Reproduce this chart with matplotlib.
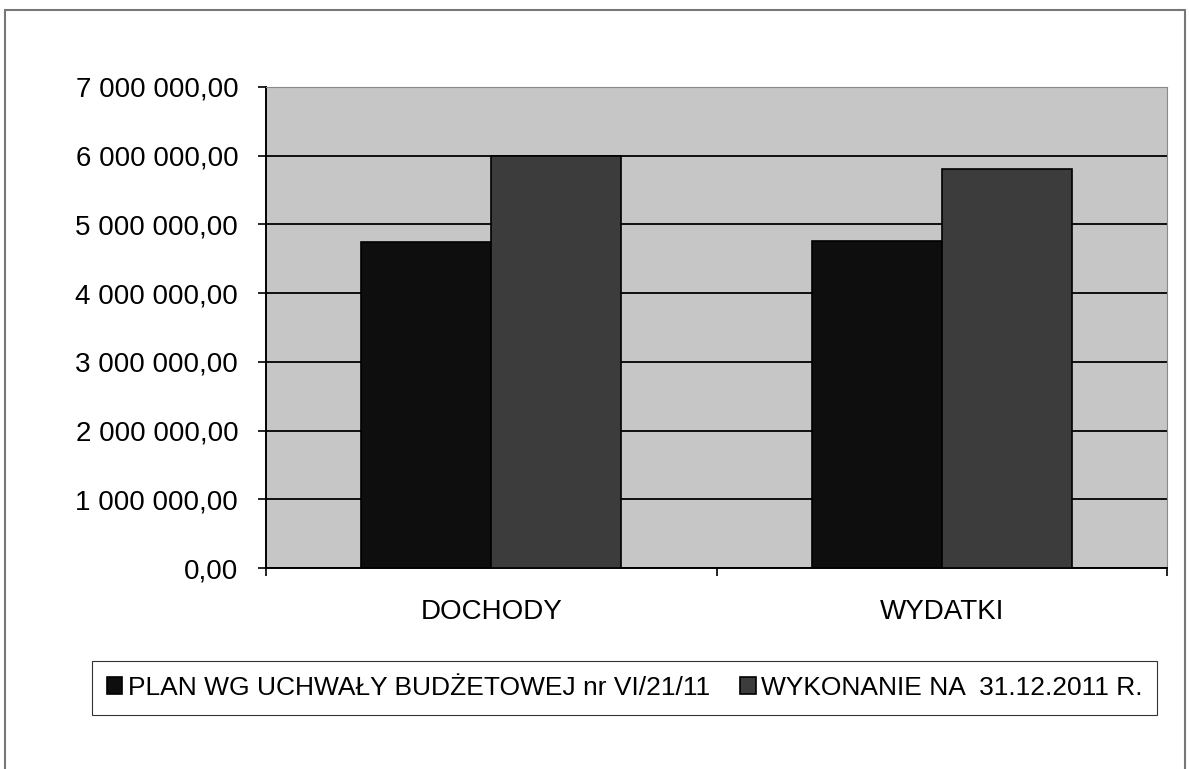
import numpy as np
import matplotlib
matplotlib.use("Agg")
import matplotlib.pyplot as plt
from matplotlib.patches import Rectangle

plt.rcParams['font.family'] = ['Liberation Sans', 'DejaVu Sans']

# data
categories = ['DOCHODY', 'WYDATKI']
plan = [4740000, 4760000]
wykonanie = [5990000, 5810000]
series_names = ['PLAN WG UCHWAŁY BUDŻETOWEJ nr VI/21/11', 'WYKONANIE NA  31.12.2011 R.']
yticks = np.arange(0, 7000001, 1000000)

def fmt(v):
    s = f"{int(v):,}".replace(",", " ")
    return s + ",00"

fig = plt.figure(figsize=(11.89, 7.69), dpi=100)
ax = fig.add_axes([266/1189, 1 - 568/769, (1167-266)/1189, (568-87)/769])

x = np.arange(len(categories))
w = 0.289
ax.set_facecolor('#c6c6c6')
ax.bar(x - w/2, plan, w, color='#0e0e0e', edgecolor='black', linewidth=1.2,
       label=series_names[0], zorder=3)
ax.bar(x + w/2, wykonanie, w, color='#3c3c3c', edgecolor='black', linewidth=1.2,
       label=series_names[1], zorder=3)

ax.set_xlim(-0.5, len(categories) - 0.5)
ax.set_ylim(0, 7000000)
ax.set_yticks(yticks)
ax.set_yticklabels([fmt(v) for v in yticks], fontsize=20)
ax.yaxis.grid(True, color='black', linewidth=1.3, zorder=1)
ax.set_axisbelow(True)

ax.set_xticks(x)
ax.set_xticklabels(categories, fontsize=20)
ax.set_xticks(np.arange(-0.5, len(categories)), minor=True)
ax.tick_params(axis='x', which='major', length=0, pad=22)
ax.tick_params(axis='x', which='minor', length=6, width=1.2, direction='out')
ax.tick_params(axis='y', length=6, width=1.2, direction='out', pad=14)

for side in ['top', 'right']:
    ax.spines[side].set_color('#8a8a8a')
for side in ['left', 'bottom']:
    ax.spines[side].set_color('black')
    ax.spines[side].set_linewidth(1.4)

# legend box along the bottom
leg = fig.legend(loc='center', bbox_to_anchor=(92/1189, 1 - 713/769, (1157-92)/1189, 50/769),
                 ncol=2, fontsize=19, frameon=True, fancybox=False, handlelength=0.6,
                 handleheight=0.6, handletextpad=0.2, columnspacing=0.8,
                 borderaxespad=0, mode='expand', borderpad=0.55)
leg.get_frame().set_edgecolor('black')
leg.get_frame().set_linewidth(0.8)

# outer chart border from the scan
fig.add_artist(Rectangle((5/1189, -0.01), (1185-5)/1189, 1 - 10/769 + 0.01,
                         transform=fig.transFigure, fill=False,
                         edgecolor='#777777', linewidth=1.5))

fig.savefig('out.png', dpi=100)
